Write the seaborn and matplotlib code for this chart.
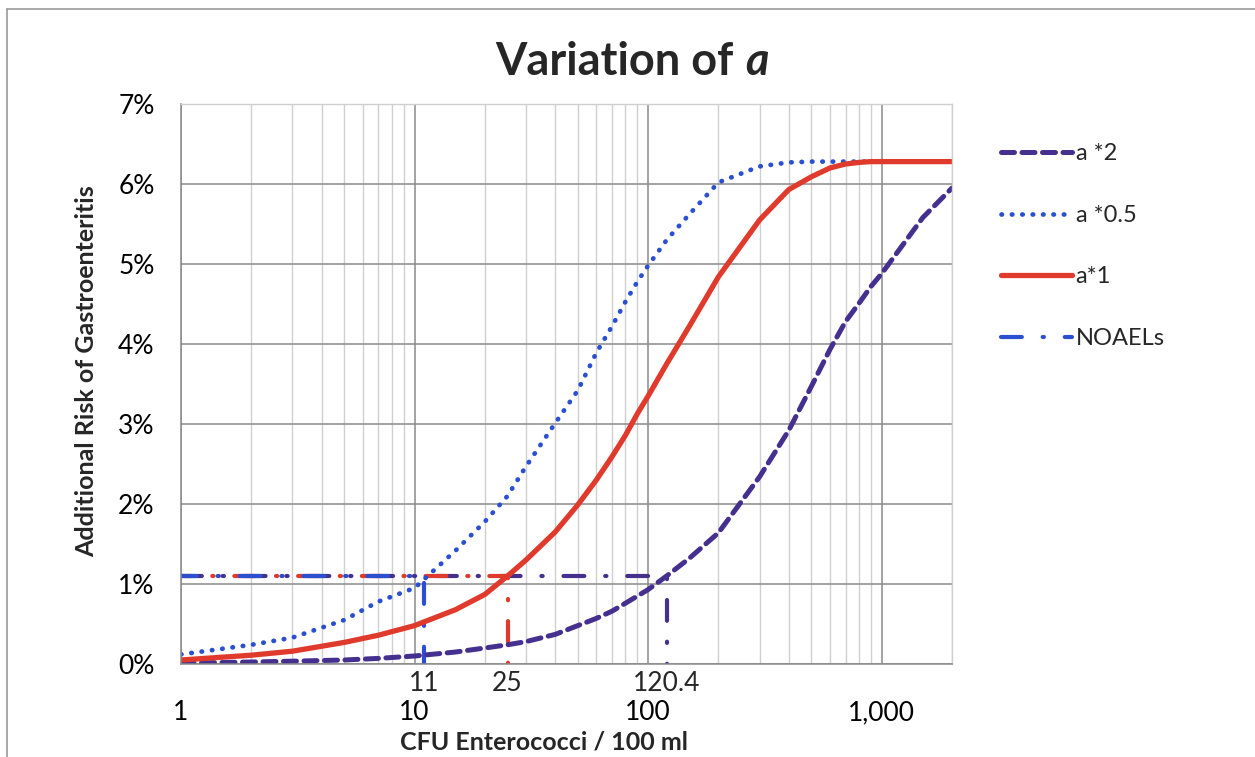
import numpy as np
import pandas as pd
import matplotlib
matplotlib.use("Agg")
import matplotlib.pyplot as plt
import matplotlib.ticker as mticker
import matplotlib.transforms as mtrans
from matplotlib.lines import Line2D
import seaborn as sns

# CFU Enterococci / 100 ml
cfu = [1, 2, 3, 5, 7, 10, 15, 20, 25, 30, 40, 50, 60, 70, 80, 90, 100,
       120, 150, 200, 300, 400, 500, 600, 700, 800, 900, 1000, 1500, 2000]

# additional risk (%)
risk_a2 = [0.01, 0.025, 0.035, 0.05, 0.07, 0.10, 0.15, 0.20, 0.24, 0.28, 0.37, 0.48, 0.57, 0.66, 0.76, 0.85, 0.93,
           1.10, 1.32, 1.64, 2.34, 2.92, 3.47, 3.93, 4.28, 4.51, 4.72, 4.88, 5.58, 5.95]
risk_a05 = [0.12, 0.24, 0.33, 0.55, 0.78, 0.95, 1.42, 1.78, 2.10, 2.47, 3.01, 3.42, 3.89, 4.22, 4.53, 4.78, 4.98,
            5.30, 5.62, 6.02, 6.22, 6.27, 6.28, 6.28, 6.28, 6.28, 6.28, 6.28, 6.28, 6.28]
risk_a1 = [0.05, 0.11, 0.16, 0.27, 0.36, 0.48, 0.68, 0.87, 1.10, 1.30, 1.65, 1.99, 2.30, 2.59, 2.86, 3.13, 3.35,
           3.75, 4.22, 4.84, 5.55, 5.93, 6.09, 6.20, 6.25, 6.27, 6.28, 6.28, 6.28, 6.28]

# NOAELs: 1.1% risk level and the matching concentrations
noael_risk = 1.1
noael_cfu = [120.4, 25, 11]
noael_labels = ["120.4", "25", "11"]

c_purple = "#46308f"
c_blue = "#2a4fd0"
c_red = "#e03a2c"
c_noael = [c_purple, c_red, c_blue]
noael_offsets = [0, 2.5, 1.2]

sns.set_style("white")
plt.rcParams["font.family"] = ["Lato", "DejaVu Sans"]

fig = plt.figure(figsize=(12.55, 7.57), dpi=100)
ax = fig.add_axes([181 / 1255, 1 - 664 / 757, (952 - 181) / 1255, (664 - 104) / 757])

df = pd.DataFrame({"cfu": cfu, "a2": risk_a2, "a05": risk_a05, "a1": risk_a1})

dash_a2 = (0, (2.6, 1.5))
dot_a05 = (0, (0.1, 2.1))
dd_pattern = (5, 5, 0.3, 5)

# NOAEL lines first (underneath)
for xv, col, off in zip(noael_cfu, c_noael, noael_offsets):
    nd = pd.DataFrame({"x": [1, xv, xv], "y": [noael_risk, noael_risk, 0]})
    sns.lineplot(data=nd, x="x", y="y", sort=False, estimator=None, ax=ax,
                 color=col, linewidth=3, linestyle=(off, dd_pattern), dash_capstyle="round")

sns.lineplot(data=df, x="cfu", y="a2", ax=ax, color=c_purple, linewidth=3.6,
             linestyle=dash_a2, dash_capstyle="round")
sns.lineplot(data=df, x="cfu", y="a05", ax=ax, color=c_blue, linewidth=3.4,
             linestyle=dot_a05, dash_capstyle="round")
sns.lineplot(data=df, x="cfu", y="a1", ax=ax, color=c_red, linewidth=3.8)

ax.set_xscale("log")
ax.set_xlim(1, 2000)
ax.set_ylim(0, 7)
ax.yaxis.set_major_locator(mticker.MultipleLocator(1))
ax.yaxis.set_major_formatter(mticker.PercentFormatter(decimals=0))
ax.set_xticks([1, 10, 100, 1000])
ax.set_xticklabels(["1", "10", "100", "1,000"])
ax.xaxis.set_minor_locator(mticker.LogLocator(base=10, subs=np.arange(2, 10)))
ax.xaxis.set_minor_formatter(mticker.NullFormatter())

ax.grid(True, which="major", axis="both", color="#8a8a8a", linewidth=1.1)
ax.grid(True, which="minor", axis="x", color="#cfcfcf", linewidth=1.0)
ax.set_axisbelow(True)
ax.tick_params(axis="both", which="major", direction="out", length=7, width=1,
               color="#8a8a8a", labelsize=19, labelcolor="black")
ax.tick_params(axis="x", which="major", pad=19)
ax.tick_params(axis="x", which="minor", length=0)
ax.tick_params(axis="y", pad=12)
for s in ["left", "bottom"]:
    ax.spines[s].set_color("#8a8a8a")
    ax.spines[s].set_linewidth(1.1)
for s in ["top", "right"]:
    ax.spines[s].set_color("#cfcfcf")
    ax.spines[s].set_linewidth(1.0)

# NOAEL value labels just under the axis
trans = mtrans.blended_transform_factory(ax.transData, ax.transAxes)
for xv, lab in zip(noael_cfu, noael_labels):
    ax.text(xv, -0.012, lab, transform=trans, ha="center", va="top", fontsize=19)

ax.set_xlabel("CFU Enterococci / 100 ml", fontsize=18, fontweight="bold")
ax.xaxis.set_label_coords(0.471, -0.118)
ax.set_ylabel("Additional Risk of Gastroenteritis", fontsize=18, fontweight="bold")
ax.yaxis.set_label_coords(-0.107, 0.523)

# title, with an italic a
t1 = fig.text(0.5, 1 - 75 / 757, "Variation of ", fontsize=32.5, fontweight="bold",
              ha="left", va="baseline")
t2 = fig.text(0.5, 1 - 75 / 757, "a", fontsize=32.5, fontweight="bold", style="italic",
              ha="left", va="baseline")
fig.canvas.draw()
r = fig.canvas.get_renderer()
w1 = t1.get_window_extent(r).width
w2 = t2.get_window_extent(r).width
x0 = 632 - (w1 + w2) / 2
t1.set_x(x0 / 1255)
t2.set_x((x0 + w1) / 1255)

handles = [
    Line2D([], [], color=c_purple, linewidth=3.6, linestyle=dash_a2, dash_capstyle="round"),
    Line2D([], [], color=c_blue, linewidth=3.4, linestyle=dot_a05, dash_capstyle="round"),
    Line2D([], [], color=c_red, linewidth=3.8),
    Line2D([], [], color=c_blue, linewidth=3, linestyle=(0, dd_pattern), dash_capstyle="round"),
]
fig.legend(handles, ["a *2", "a *0.5", "a*1", "NOAELs"], loc="upper left",
           bbox_to_anchor=(980 / 1255, 1 - 122 / 757), frameon=False, fontsize=17,
           handlelength=3.0, handletextpad=0.15, labelspacing=1.72)

# outer chart border (top and left visible)
fig.add_artist(Line2D([7 / 1255, 7 / 1255], [0, 1 - 9 / 757], transform=fig.transFigure,
                      color="#9a9a9a", linewidth=1.2))
fig.add_artist(Line2D([7 / 1255, 1], [1 - 9 / 757, 1 - 9 / 757], transform=fig.transFigure,
                      color="#9a9a9a", linewidth=1.2))

fig.savefig("out.png", dpi=100)
